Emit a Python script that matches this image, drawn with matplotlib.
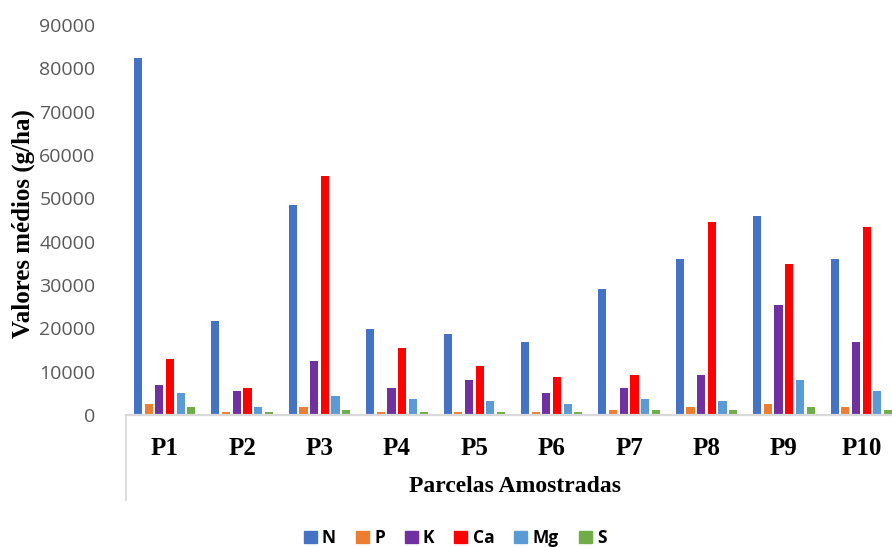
import numpy as np
import matplotlib
matplotlib.use("Agg")
import matplotlib.pyplot as plt
from matplotlib.lines import Line2D
from matplotlib.patches import Rectangle

parcelas = ["P1", "P2", "P3", "P4", "P5", "P6", "P7", "P8", "P9", "P10"]
nutrientes = ["N", "P", "K", "Ca", "Mg", "S"]

N = [82500, 21750, 48400, 19900, 18650, 16750, 29150, 36000, 45900, 36000]
P = [2500, 700, 1850, 600, 600, 600, 1250, 1850, 2500, 1850]
K = [6900, 5650, 12400, 6250, 8100, 5000, 6250, 9300, 25450, 16800]
Ca = [13000, 6250, 55200, 15500, 11200, 8700, 9300, 44650, 34800, 43400]
Mg = [5000, 1850, 4300, 3800, 3150, 2500, 3800, 3150, 8100, 5650]
S = [1850, 650, 1250, 600, 600, 600, 1250, 1250, 1850, 1250]

cores = ["#4472C4", "#ED7D31", "#7030A0", "#FF0000", "#5B9BD5", "#70AD47"]
series = [N, P, K, Ca, Mg, S]

W, H = 892, 547
fig = plt.figure(figsize=(W / 100, H / 100), dpi=100)
ax = fig.add_axes([126 / W, 1 - 415 / H, 774 / W, 390 / H])

x = np.arange(len(parcelas))
passo = 0.138
largura = 0.105
for i, (vals, cor, nome) in enumerate(zip(series, cores, nutrientes)):
    ax.bar(x + (i - 2.5) * passo, vals, width=largura, color=cor, label=nome, zorder=2)

ax.set_xlim(-0.5, len(parcelas) - 0.5)
ax.set_ylim(0, 90000)
ax.set_yticks(np.arange(0, 90001, 10000))
ax.set_yticklabels([f"{v}" for v in range(0, 90001, 10000)],
                   fontfamily="Open Sans", fontsize=14, color="#595959")
ax.set_xticks(x)
ax.set_xticklabels(parcelas, fontfamily="Liberation Serif", fontweight="bold",
                   fontsize=18, color="black")
ax.tick_params(axis="y", length=0, pad=22)
ax.tick_params(axis="x", length=0, pad=16)

for s in ("top", "right", "left"):
    ax.spines[s].set_visible(False)
ax.spines["bottom"].set_color("#d9d9d9")
ax.spines["bottom"].set_linewidth(1.6)

# left edge of the category axis box
fig.add_artist(Line2D([126 / W, 126 / W], [1 - 415 / H, 1 - 500 / H],
                      color="#d9d9d9", linewidth=1.3))

fig.text(23 / W, 1 - 224 / H, "Valores médios (g/ha)", rotation=90,
         ha="center", va="center", fontfamily="Liberation Serif",
         fontweight="bold", fontsize=18)
fig.text(515 / W, 1 - 486 / H, "Parcelas Amostradas", ha="center", va="center",
         fontfamily="Liberation Serif", fontweight="bold", fontsize=17)

handles = [Rectangle((0, 0), 1, 1, color=c) for c in cores]
fig.legend(handles, nutrientes, loc="center", bbox_to_anchor=(455 / W, 1 - 538 / H),
           ncol=6, frameon=False, handlelength=0.75, handleheight=0.75,
           handletextpad=0.3, columnspacing=1.15,
           prop={"family": "Open Sans", "weight": "bold", "size": 12.5})

fig.savefig("out.png", dpi=100)
